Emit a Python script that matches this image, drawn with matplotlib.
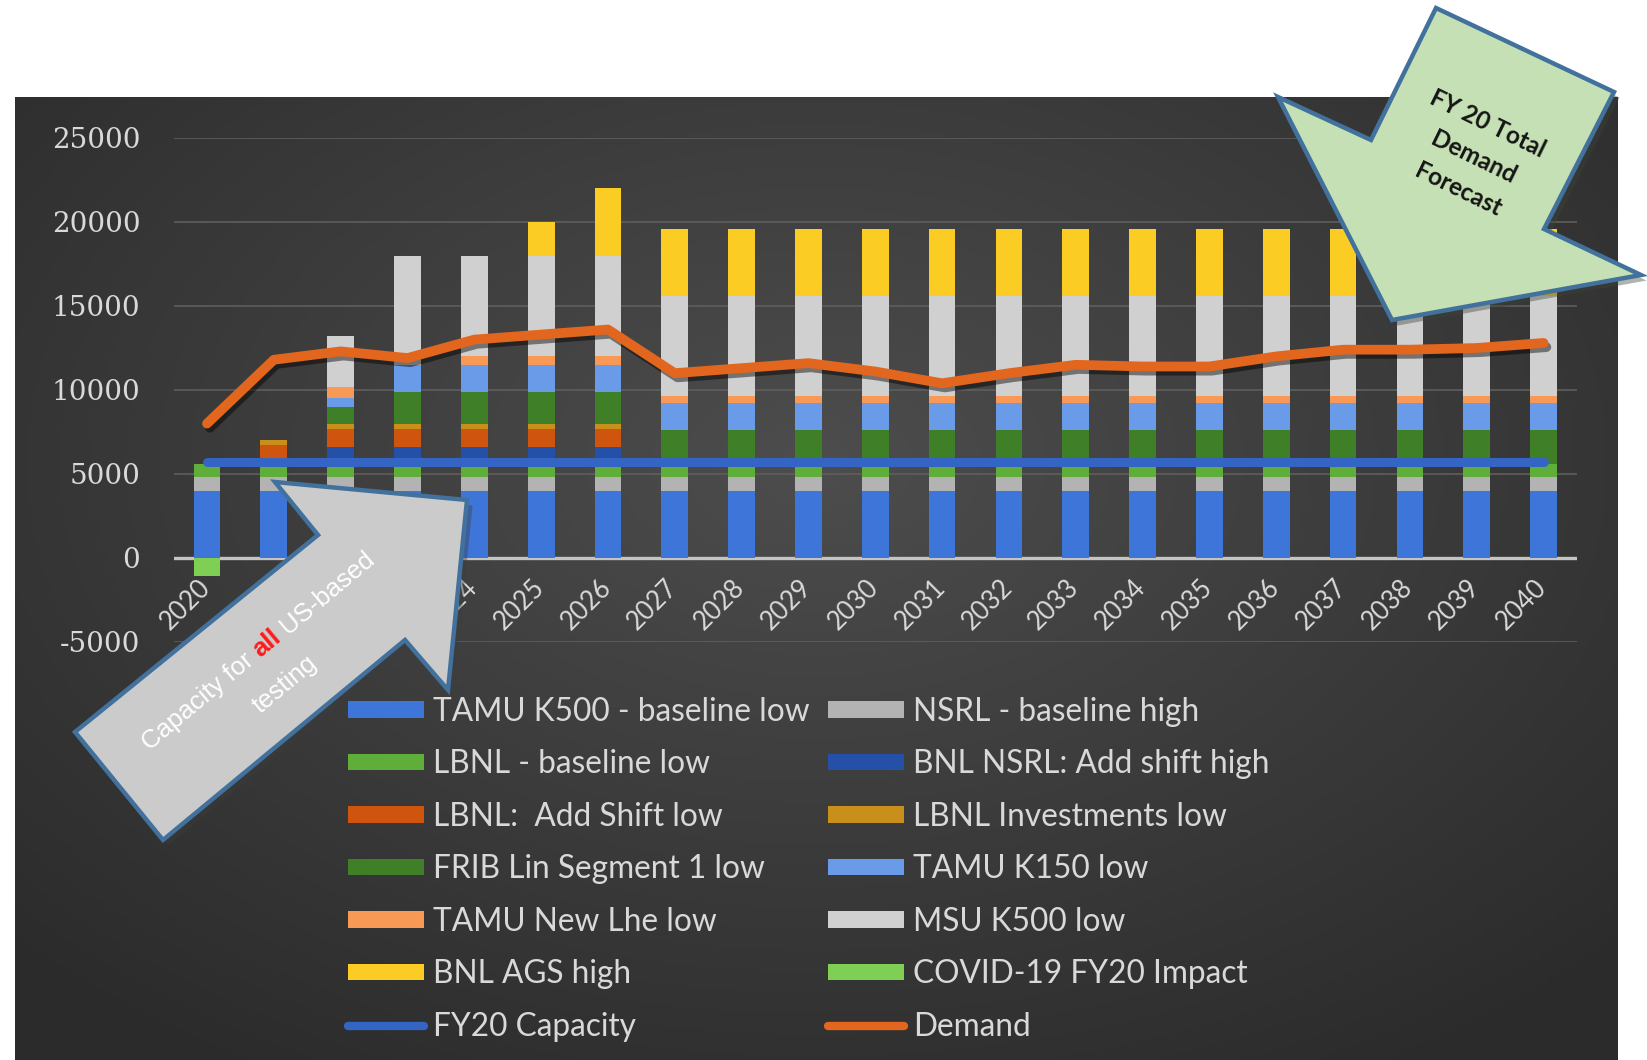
import numpy as np
import matplotlib
matplotlib.use("Agg")
import matplotlib.pyplot as plt
from matplotlib.patches import Polygon
from matplotlib.lines import Line2D
import matplotlib.patheffects as pe
import matplotlib.transforms as mtransforms

plt.rcParams["axes.unicode_minus"] = False

# ---------------- data ----------------
years = ["2020", "2021", "2022", "2023", "2024", "2025", "2026", "2027", "2028", "2029",
         "2030", "2031", "2032", "2033", "2034", "2035", "2036", "2037", "2038", "2039", "2040"]

tamu_k500_baseline = [4000, 4000, 4000, 4000, 4000, 4000, 4000, 4000, 4000, 4000, 4000,
                      4000, 4000, 4000, 4000, 4000, 4000, 4000, 4000, 4000, 4000]
nsrl_baseline = [800, 800, 800, 800, 800, 800, 800, 800, 800, 800, 800,
                 800, 800, 800, 800, 800, 800, 800, 800, 800, 800]
lbnl_baseline = [800, 800, 800, 800, 800, 800, 800, 800, 800, 800, 800,
                 800, 800, 800, 800, 800, 800, 800, 800, 800, 800]
bnl_nsrl_add_shift = [0, 0, 1000, 1000, 1000, 1000, 1000, 0, 0, 0, 0,
                      0, 0, 0, 0, 0, 0, 0, 0, 0, 0]
lbnl_add_shift = [0, 1100, 1100, 1100, 1100, 1100, 1100, 0, 0, 0, 0,
                  0, 0, 0, 0, 0, 0, 0, 0, 0, 0]
lbnl_investments = [0, 300, 300, 300, 300, 300, 300, 0, 0, 0, 0,
                    0, 0, 0, 0, 0, 0, 0, 0, 0, 0]
frib_lin_seg1 = [0, 0, 1000, 1900, 1900, 1900, 1900, 2000, 2000, 2000, 2000,
                 2000, 2000, 2000, 2000, 2000, 2000, 2000, 2000, 2000, 2000]
tamu_k150 = [0, 0, 550, 1600, 1600, 1600, 1600, 1600, 1600, 1600, 1600,
             1600, 1600, 1600, 1600, 1600, 1600, 1600, 1600, 1600, 1600]
tamu_new_lhe = [0, 0, 650, 0, 500, 500, 500, 450, 450, 450, 450,
                450, 450, 450, 450, 450, 450, 450, 450, 450, 450]
msu_k500 = [0, 0, 3000, 6500, 6000, 6000, 6000, 5950, 5950, 5950, 5950,
            5950, 5950, 5950, 5950, 5950, 5950, 5950, 5950, 5950, 5950]
bnl_ags = [0, 0, 0, 0, 0, 2000, 4000, 4000, 4000, 4000, 4000,
           4000, 4000, 4000, 4000, 4000, 4000, 4000, 4000, 4000, 4000]
covid_impact = [-1100, 0, 0, 0, 0, 0, 0, 0, 0, 0, 0,
                0, 0, 0, 0, 0, 0, 0, 0, 0, 0]
fy20_capacity = [5700, 5700, 5700, 5700, 5700, 5700, 5700, 5700, 5700, 5700, 5700,
                 5700, 5700, 5700, 5700, 5700, 5700, 5700, 5700, 5700, 5700]
demand = [8000, 11800, 12300, 11900, 13000, 13300, 13600, 11000, 11300, 11600, 11100,
          10400, 11000, 11500, 11400, 11400, 12000, 12400, 12400, 12500, 12800]

# stack order (bottom to top) : label, values, colour
stack = [
    ("TAMU K500 - baseline low", tamu_k500_baseline, "#3d75d9"),
    ("NSRL - baseline high", nsrl_baseline, "#b3b3b3"),
    ("LBNL - baseline low", lbnl_baseline, "#5fae3a"),
    ("BNL NSRL: Add shift high", bnl_nsrl_add_shift, "#2450a8"),
    ("LBNL:  Add Shift low", lbnl_add_shift, "#cf540e"),
    ("LBNL Investments low", lbnl_investments, "#c8901a"),
    ("FRIB Lin Segment 1 low", frib_lin_seg1, "#3f7f27"),
    ("TAMU K150 low", tamu_k150, "#6a9be8"),
    ("TAMU New Lhe low", tamu_new_lhe, "#f89a55"),
    ("MSU K500 low", msu_k500, "#d0d0d0"),
    ("BNL AGS high", bnl_ags, "#fbcd24"),
]
covid_color = "#7fcf55"
cap_color = "#3565c4"
dem_color = "#e2661d"

# ---------------- figure ----------------
W, H = 1647, 1060
fig = plt.figure(figsize=(W / 100, H / 100), dpi=100, facecolor="white")


def fx(v):
    return v / W


def fy(v):
    return 1 - v / H


# dark background panel with soft radial gradient
bg = fig.add_axes([fx(15), 0, fx(1618) - fx(15), fy(97)], zorder=0)
bg.set_axis_off()
ny, nx = 240, 400
yy, xx = np.mgrid[0:1:ny * 1j, 0:1:nx * 1j]
r = np.sqrt(((xx - 0.5) / 0.7) ** 2 + ((yy - 0.62) / 0.75) ** 2)
t = np.clip(r, 0, 1)[..., None]
c_center = np.array([0x4d, 0x4d, 0x4d]) / 255
c_edge = np.array([0x2b, 0x2b, 0x2b]) / 255
img = c_center * (1 - t) + c_edge * t
bg.imshow(img, aspect="auto", extent=[0, 1, 0, 1], origin="lower")

# main axes
ax = fig.add_axes([fx(173.6), fy(642), fx(1577) - fx(173.6), fy(138) - fy(642)], zorder=1)
ax.patch.set_alpha(0)
x = np.arange(len(years))
bw = 0.4

bottom = np.zeros(len(years))
handles = {}
for label, vals, col in stack:
    v = np.array(vals, dtype=float)
    bars = ax.bar(x, v, bw, bottom=bottom, color=col, label=label, zorder=3, linewidth=0)
    handles[label] = bars
    bottom = bottom + v
cov = ax.bar(x, covid_impact, bw, color=covid_color, label="COVID-19 FY20 Impact", zorder=3, linewidth=0)
handles["COVID-19 FY20 Impact"] = cov

cap_line, = ax.plot(x, fy20_capacity, color=cap_color, lw=6.5, zorder=5,
                    solid_capstyle="round", label="FY20 Capacity")
dem_line, = ax.plot(x, demand, color=dem_color, lw=7, zorder=6, solid_capstyle="round",
                    solid_joinstyle="round", label="Demand",
                    path_effects=[pe.SimpleLineShadow(offset=(2, -3), alpha=0.45), pe.Normal()])

ax.set_xlim(-0.5, len(years) - 0.5)
ax.set_ylim(-5000, 25000)
ax.set_yticks([-5000, 0, 5000, 10000, 15000, 20000, 25000])
ax.yaxis.grid(True, color="#5e5e5e", lw=1.2, zorder=0)
ax.set_axisbelow(True)
ax.axhline(0, color="#c4c4c4", lw=2.4, zorder=2)
ax.spines["bottom"].set_position(("data", 0))
for s in ax.spines.values():
    s.set_visible(False)
ax.tick_params(axis="y", length=0, pad=24, labelcolor="#d9d9d9", labelsize=20)
for lab in ax.get_yticklabels():
    lab.set_family("DejaVu Serif")
ax.set_xticks(x)
ax.set_xticklabels(years, rotation=45, ha="right", va="top", color="#d9d9d9",
                   fontsize=18.5, family="Lato")
ax.tick_params(axis="x", length=0, pad=12)
off = mtransforms.ScaledTranslation(8 / 100, 0, fig.dpi_scale_trans)
for lab in ax.get_xticklabels():
    lab.set_transform(lab.get_transform() + off)

# legends (two columns, row-wise order as in the original)
left_labels = ["TAMU K500 - baseline low", "LBNL - baseline low", "LBNL:  Add Shift low",
               "FRIB Lin Segment 1 low", "TAMU New Lhe low", "BNL AGS high", "FY20 Capacity"]
right_labels = ["NSRL - baseline high", "BNL NSRL: Add shift high", "LBNL Investments low",
                "TAMU K150 low", "MSU K500 low", "COVID-19 FY20 Impact", "Demand"]
cap_h = Line2D([], [], color=cap_color, lw=6, solid_capstyle="round")
dem_h = Line2D([], [], color=dem_color, lw=6, solid_capstyle="round")
handles["FY20 Capacity"] = cap_h
handles["Demand"] = dem_h

fs_leg = 22.8
leg_kw = dict(loc="upper left", frameon=False, prop={"family": "Lato", "size": fs_leg},
              handlelength=76 / (fs_leg * 100 / 72), handleheight=0.42,
              handletextpad=9 / (fs_leg * 100 / 72), labelspacing=0.71,
              borderpad=0, borderaxespad=0, labelcolor="#d9d9d9")
leg1 = fig.legend([handles[l] for l in left_labels], left_labels,
                  bbox_to_anchor=(fx(348), fy(697)), **leg_kw)
leg2 = fig.legend([handles[l] for l in right_labels], right_labels,
                  bbox_to_anchor=(fx(828), fy(697)), **leg_kw)

# ---------------- overlay annotations (block arrows) ----------------
ov = fig.add_axes([0, 0, 1, 1], zorder=10)
ov.set_xlim(0, W)
ov.set_ylim(H, 0)
ov.set_axis_off()
ov.patch.set_alpha(0)

gray_arrow = [(75, 732), (318, 535), (275, 482), (467, 500), (448, 690), (405, 640), (163, 840)]
ov.add_patch(Polygon(gray_arrow, closed=True, fc="#cbcbcb", ec="#41719c", lw=3.2,
                     joinstyle="miter",
                     path_effects=[pe.SimplePatchShadow(offset=(4, -4), alpha=0.4), pe.Normal()]))

green_arrow = [(1436, 8), (1614, 92), (1544, 229), (1641, 275), (1392, 320), (1278, 97), (1371, 140)]
ov.add_patch(Polygon(green_arrow, closed=True, fc="#c5e0b4", ec="#41719c", lw=3.2,
                     joinstyle="miter",
                     path_effects=[pe.SimplePatchShadow(offset=(4, -4), alpha=0.4), pe.Normal()]))

renderer = fig.canvas.get_renderer()


def twidth(s, **kw):
    tt = ov.text(0, 0, s, **kw)
    w = tt.get_window_extent(renderer).width
    tt.remove()
    return w


# gray arrow text: "Capacity for all US-based" / "testing", "all" in red
th = np.deg2rad(40)
u = np.array([np.cos(th), -np.sin(th)])
base_kw = dict(family="Liberation Sans", fontsize=18.5)
pieces = [("Capacity for", "white", "normal"), (" ", "white", "normal"),
          ("all", "#ff1a1a", "bold"), (" ", "white", "normal"), ("US-based", "white", "normal")]
sp = twidth("a a", **base_kw) - twidth("aa", **base_kw)
widths = []
for s, c, wgt in pieces:
    if s == " ":
        widths.append(sp)
    else:
        widths.append(twidth(s, weight=wgt, **base_kw))
total = sum(widths)
center1 = np.array([258.0, 651.0])
start = center1 - u * total / 2
pos = 0.0
for (s, c, wgt), w in zip(pieces, widths):
    if s != " ":
        p = start + u * pos
        ov.text(p[0], p[1], s, color=c, weight=wgt, rotation=40, rotation_mode="anchor",
                ha="left", va="center", **base_kw)
    pos += w
ov.text(285, 684, "testing", color="white", rotation=40, rotation_mode="anchor",
        ha="center", va="center", **base_kw)

# green arrow text
for (cx, cy), s in zip([(1488, 124), (1474, 157), (1458, 190)],
                       ["FY 20 Total", "Demand", "Forecast"]):
    ov.text(cx, cy, s, color="#151515", rotation=-26, rotation_mode="anchor",
            ha="center", va="center", family="Lato", weight="bold", fontsize=17.5)

fig.savefig("out.png", dpi=100, facecolor="white")
